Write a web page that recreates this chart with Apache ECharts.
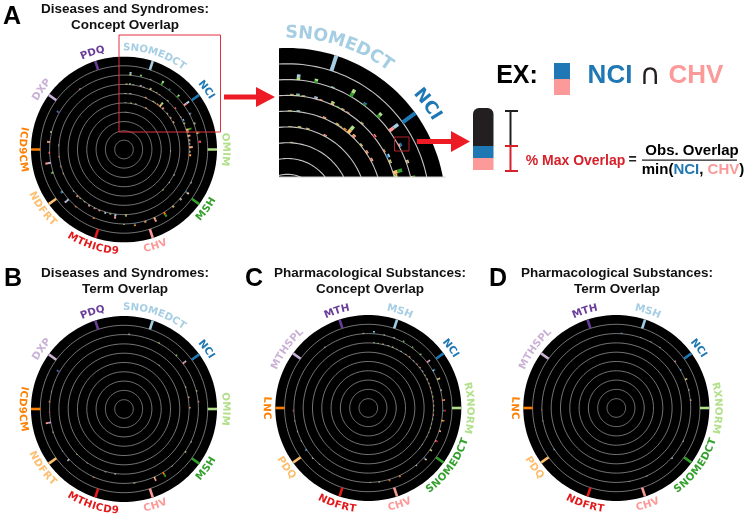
<!DOCTYPE html>
<html>
<head>
<meta charset="utf-8">
<title>Concept and term overlap</title>
<script src="https://cdn.jsdelivr.net/npm/echarts@6/dist/echarts.min.js"></script>
<style>
  html, body { margin: 0; padding: 0; background: #fff; }
  #chart { width: 750px; height: 519px; }
</style>
</head>
<body>
<div id="chart"></div>
<script>
// Database names, clockwise from the top of each wheel
const diseaseDatabases = ['SNOMEDCT', 'NCI', 'OMIM', 'MSH', 'CHV', 'MTHICD9', 'NDFRT', 'ICD9CM', 'DXP', 'PDQ'];
const pharmaDatabases = ['MSH', 'NCI', 'RXNORM', 'SNOMEDCT', 'CHV', 'NDFRT', 'PDQ', 'LNC', 'MTHSPL', 'MTH'];
const databaseAngles = [18, 54, 90, 126, 162, 198, 234, 270, 306, 342];
const databaseColors = ['#a6cee3', '#1f78b4', '#b2df8a', '#33a02c', '#fb9a99', '#e31a1c', '#fdbf6f', '#ff7f00', '#cab2d6', '#6a3d9a'];
const ringLevels = [1, 2, 3, 4, 5, 6, 7, 8, 9];

// Bars: [angle, ring, overlap, outer db, inner db]
const diseaseConceptBars = [
  [4.9, 8, .36, 0, 2], [12.9, 8, .25, 2, 3], [20.9, 8, .08, 0, 2], [30, 8, .5, 2, 3], [37.2, 8, .2, 1, 3],
  [45.4, 8, .35, 2, 3], [53.6, 8, .7, 0, 4], [61.5, 8, .22, 1, 4], [69.7, 8, .18, 6, 0], [77.3, 8, .3, 3, 6],
  [84.2, 8, .3, 4, 5], [116.3, 8, .12, 4, 0], [124.4, 8, .45, 6, 1], [131.3, 8, .22, 0, 6], [139.2, 8, .2, 6, 2],
  [147.6, 8, .55, 3, 7], [156, 8, .5, 4, 6], [163.5, 8, .2, 6, 4], [171.8, 8, .32, 7, 1], [180, 8, .08, 2, 6],
  [203.8, 8, .15, 7, 4], [220.2, 8, .12, 7, 6], [228.1, 8, .55, 8, 0], [235.6, 8, .25, 1, 0], [252, 8, .25, 3, 2],
  [259.7, 8, .6, 4, 8], [267.5, 8, .15, 5, 4], [275.7, 8, .3, 6, 4], [283.5, 8, .15, 6, 2], [299.7, 8, .32, 1, 9],
  [323.8, 8, .1, 4, 8],
  [2.2, 7, .1, 2, 6], [5.3, 7, .14, 0, 2], [8.2, 7, .08, 2, 6], [14.7, 7, .16, 0, 8], [17.6, 7, .08, 6, 4],
  [23.7, 7, .22, 2, 6], [26.9, 7, .08, 3, 2], [29.8, 7, .1, 6, 2], [32.9, 7, .08, 4, 6], [42, 7, .1, 2, 6],
  [51.2, 7, .16, 4, 5], [60.3, 7, .1, 6, 4], [63.5, 7, .22, 0, 1], [66.6, 7, .16, 2, 6], [72.6, 7, .6, 3, 6],
  [74.4, 7, .22, 6, 2], [78, 7, .3, 4, 6], [82, 7, .2, 6, 4], [85, 7, .15, 0, 4], [88, 7, .4, 4, 6],
  [92, 7, .15, 6, 0], [95, 7, .25, 6, 7], [178.3, 7, .2, 2, 6], [187.5, 7, .5, 4, 0], [192, 7, .15, 6, 2],
  [196.5, 7, .2, 0, 8], [202, 7, .15, 6, 4], [206.6, 7, .15, 4, 2], [211.9, 7, .2, 4, 8], [217, 7, .1, 6, 0],
  [222, 7, .1, 2, 6], [225, 7, .2, 6, 4], [230.4, 7, .1, 0, 6], [248.4, 7, .08, 6, 8], [255, 7, .08, 8, 6],
  [263.7, 7, .08, 6, 4], [273.7, 7, .08, 8, 0],
  [1.5, 6, .08, 6, 2], [6.5, 6, .1, 2, 0], [22.7, 6, .12, 4, 6], [31.4, 6, .12, 6, 2], [33.9, 6, .08, 2, 6],
  [36.8, 6, .12, 6, 7], [39.7, 6, .55, 2, 6], [43.5, 6, .2, 6, 4], [50.4, 6, .12, 2, 6], [55.8, 6, .15, 4, 6],
  [61.2, 6, .15, 6, 4], [117, 6, .1, 2, 0], [126, 6, .08, 0, 6], [135.9, 6, .1, 2, 6],
  [1.8, 5, .06, 6, 2], [8.6, 5, .1, 2, 6], [14.7, 5, .1, 6, 2], [28, 5, .12, 4, 6], [92, 5, .05, 6, 8],
  [3.7, 4, .06, 6, 2]
];
const diseaseTermBars = [
  [4, 8, .12, 0, 2], [28, 8, .1, 2, 6], [44.3, 8, .18, 3, 2], [52.3, 8, .45, 8, 4], [76, 8, .12, 6, 2],
  [84.4, 8, .12, 4, 6], [116.1, 8, .1, 4, 0], [124.9, 8, .15, 2, 6], [140, 8, .08, 6, 2], [148.4, 8, .55, 3, 7],
  [156, 8, .45, 4, 6], [172, 8, .1, 6, 2], [204, 8, .1, 7, 4], [227.5, 8, .25, 8, 0], [235.5, 8, .1, 1, 0],
  [251.9, 8, .12, 3, 2], [259.6, 8, .55, 4, 8], [267.5, 8, .08, 5, 4], [275.6, 8, .12, 6, 4], [283.4, 8, .05, 6, 2],
  [300, 8, .35, 1, 9],
  [70.4, 7, .1, 6, 2], [79.8, 7, .15, 4, 6], [88.9, 7, .15, 6, 4], [187.7, 7, .12, 0, 4], [196.5, 7, .1, 0, 8],
  [214.5, 7, .08, 6, 4], [226, 7, .08, 2, 6],
  [38.8, 6, .08, 6, 2]
];
const pharmaConceptBars = [
  [4.2, 8, .3, 0, 1], [356.2, 8, .1, 6, 2], [12.2, 8, .1, 2, 0], [20.2, 8, .1, 0, 2], [27.9, 8, .18, 2, 3],
  [36, 8, .15, 2, 3], [44.3, 8, .18, 3, 2], [52.2, 8, .4, 8, 4], [60, 8, .3, 1, 0], [67.5, 8, .35, 6, 2],
  [76.3, 8, .15, 8, 6], [84, 8, .3, 7, 4], [92, 8, .35, 5, 1], [99.7, 8, .3, 7, 6], [107.9, 8, .2, 6, 4],
  [116, 8, .3, 5, 4], [124, 8, .25, 6, 2], [131.8, 8, .4, 6, 1], [140, 8, .12, 2, 0], [155.2, 8, .2, 7, 6],
  [163.7, 8, .2, 7, 4], [171.6, 8, .12, 0, 6], [178.7, 8, .06, 2, 6], [324.4, 8, .1, 4, 8], [268, 8, .12, 4, 5],
  [260, 8, .06, 8, 6], [251.6, 8, .08, 0, 6], [243.7, 8, .08, 6, 0], [236, 8, .2, 1, 0], [228, 8, .12, 0, 2],
  [221, 8, .05, 6, 2],
  [4.9, 7, .1, 0, 2], [8.7, 7, .08, 2, 0], [13, 7, .1, 6, 2], [17.8, 7, .08, 0, 6], [22, 7, .12, 2, 6],
  [26, 7, .08, 6, 0], [30, 7, .1, 0, 2], [35, 7, .08, 2, 6], [39, 7, .12, 6, 4], [44, 7, .08, 0, 2],
  [48, 7, .1, 4, 6], [52, 7, .12, 6, 4], [56, 7, .1, 0, 4], [60, 7, .08, 6, 2], [64, 7, .12, 4, 6],
  [68, 7, .08, 2, 6], [72, 7, .1, 6, 4], [76, 7, .08, 0, 6], [80, 7, .1, 6, 2], [84, 7, .08, 4, 6],
  [88, 7, .1, 6, 0], [92, 7, .08, 2, 6], [96, 7, .1, 6, 4], [100, 7, .08, 0, 2], [104, 7, .06, 6, 2],
  [108, 7, .08, 2, 6], [112, 7, .06, 6, 4], [116, 7, .05, 0, 6], [124, 7, .05, 6, 2], [128, 7, .05, 2, 0]
];
const pharmaTermBars = [
  [4, 8, .12, 1, 0], [19.2, 8, .06, 0, 2], [27.8, 8, .06, 2, 6], [35.9, 8, .06, 0, 2], [51.6, 8, .15, 8, 6],
  [59.4, 8, .15, 1, 0], [67.6, 8, .25, 6, 2], [76, 8, .1, 8, 6], [84, 8, .12, 4, 6], [116.4, 8, .1, 4, 8],
  [132, 8, .15, 0, 2], [156, 8, .06, 6, 2], [169.6, 8, .05, 2, 6], [236.3, 8, .12, 1, 0], [260, 8, .05, 8, 6],
  [268.5, 8, .04, 4, 6]
];

const RAD = Math.PI / 180;
const measureCtx = document.createElement('canvas').getContext('2d');

function wheelPoint(api, radius, degrees) {
  return api.coord([radius * Math.sin(degrees * RAD), radius * Math.cos(degrees * RAD)]);
}

function circlePoints(api, radius) {
  const points = [];
  for (let deg = 0; deg < 360; deg += 2) points.push(wheelPoint(api, radius, deg));
  return points;
}

/**
 * Builds the custom series for one wheel: disk, rings, bars, rim ticks
 */
function wheelSeries(gridIndex, bars, widths) {
  const base = { type: 'custom', xAxisIndex: gridIndex, yAxisIndex: gridIndex, clip: true, silent: true, animation: false };
  return [
    Object.assign({}, base, {
      data: [[10]],
      renderItem: (params, api) => ({
        type: 'polygon',
        shape: { points: circlePoints(api, api.value(0)) },
        style: { fill: '#000' }
      })
    }),
    Object.assign({}, base, {
      data: ringLevels.map(r => [r]),
      renderItem: (params, api) => ({
        type: 'polygon',
        shape: { points: circlePoints(api, api.value(0)) },
        style: { fill: 'none', stroke: '#c4c4c4', lineWidth: widths.ring }
      })
    }),
    Object.assign({}, base, {
      data: bars,
      renderItem: (params, api) => {
        const angle = api.value(0), ring = api.value(1), overlap = api.value(2);
        const segment = (from, to, db) => {
          const a = wheelPoint(api, from, angle), b = wheelPoint(api, to, angle);
          return {
            type: 'line',
            shape: { x1: a[0], y1: a[1], x2: b[0], y2: b[1] },
            style: { stroke: databaseColors[db], lineWidth: widths.bar }
          };
        };
        return {
          type: 'group',
          children: [
            segment(ring, ring + overlap / 2, api.value(4)),
            segment(ring + overlap / 2, ring + overlap, api.value(3))
          ]
        };
      }
    }),
    Object.assign({}, base, {
      data: databaseAngles.map((deg, i) => [deg, i]),
      renderItem: (params, api) => {
        const a = wheelPoint(api, 9, api.value(0)), b = wheelPoint(api, 10, api.value(0));
        return {
          type: 'line',
          shape: { x1: a[0], y1: a[1], x2: b[0], y2: b[1] },
          style: { stroke: databaseColors[api.value(1)], lineWidth: widths.tick }
        };
      }
    })
  ];
}

/**
 * Labels run along the rim, one glyph at a time so the word can bend
 */
function labelSeries(gridIndex, names, fontSize, radius, only) {
  const font = 'bold ' + fontSize + 'px "DejaVu Sans"';
  const spacing = fontSize * 0.02;
  return {
    type: 'custom', xAxisIndex: gridIndex, yAxisIndex: gridIndex, clip: false, silent: true, animation: false, z: 5,
    data: databaseAngles.map((deg, i) => [deg, i]).filter(d => !only || only.includes(d[1])),
    renderItem: (params, api) => {
      const deg = api.value(0), db = api.value(1), name = names[db];
      measureCtx.font = font;
      const widths = name.split('').map(ch => measureCtx.measureText(ch).width + spacing);
      const total = widths.reduce((s, w) => s + w, 0);
      const pxPerUnit = Math.abs(api.coord([1, 0])[0] - api.coord([0, 0])[0]);
      const reversed = deg > 100 && deg < 300;
      let run = -total / 2;
      const children = name.split('').map((ch, i) => {
        const offset = (run + widths[i] / 2) / (radius * pxPerUnit) / RAD;
        run += widths[i];
        const at = reversed ? deg - offset : deg + offset;
        const p = wheelPoint(api, radius, at);
        return {
          type: 'text',
          x: p[0], y: p[1],
          rotation: (reversed ? 180 - at : -at) * RAD,
          style: { text: ch, font: font, fill: databaseColors[db], textAlign: 'center', textVerticalAlign: 'middle' }
        };
      });
      return { type: 'group', children };
    }
  };
}

const smallWidths = { ring: 0.6, bar: 1.7, tick: 2.6 };
const panels = [
  { cx: 124, cy: 149.5, title: 'Diseases and Syndromes:\nConcept Overlap', titleX: 125, titleTop: 1, names: diseaseDatabases, bars: diseaseConceptBars, widths: { ring: 0.6, bar: 2, tick: 2.6 } },
  { cx: 124, cy: 409, title: 'Diseases and Syndromes:\nTerm Overlap', titleX: 125, titleTop: 265, names: diseaseDatabases, bars: diseaseTermBars, widths: smallWidths },
  { cx: 368.3, cy: 408, title: 'Pharmacological Substances:\nConcept Overlap', titleX: 370, titleTop: 265, names: pharmaDatabases, bars: pharmaConceptBars, widths: smallWidths },
  { cx: 616.3, cy: 408, title: 'Pharmacological Substances:\nTerm Overlap', titleX: 617, titleTop: 265, names: pharmaDatabases, bars: pharmaTermBars, widths: smallWidths }
];

const grids = [], xAxes = [], yAxes = [], series = [];
panels.forEach((p, i) => {
  grids.push({ left: p.cx - 93, top: p.cy - 93, width: 186, height: 186 });
  xAxes.push({ type: 'value', gridIndex: i, min: -10, max: 10, show: false });
  yAxes.push({ type: 'value', gridIndex: i, min: -10, max: 10, show: false });
  series.push(...wheelSeries(i, p.bars, p.widths));
  series.push(labelSeries(i, p.names, 10.2, 10.95));
});

// Enlarged crop of wheel A, same data, same scales, just a narrower axis window
const insetIndex = panels.length;
grids.push({ left: 279, top: 48, width: 166.5, height: 129 });
xAxes.push({ type: 'value', gridIndex: insetIndex, min: -0.54, max: 10, show: false });
yAxes.push({ type: 'value', gridIndex: insetIndex, min: 1.83, max: 10, show: false });
series.push(...wheelSeries(insetIndex, diseaseConceptBars, { ring: 1.1, bar: 3.6, tick: 4 }));
series.push(labelSeries(insetIndex, diseaseDatabases, 17.5, 10.95, [0, 1]));

const RED = '#ed1c24';
const BLUE = '#1f78b4';
const PINK = '#fb9a99';
const INK = '#231f20';
const sans = '"Liberation Sans"';

function rect(x, y, width, height, fill, extra) {
  return Object.assign({ type: 'rect', shape: { x, y, width, height }, style: { fill }, z: 20 }, extra);
}
function label(x, y, text, font, fill) {
  return { type: 'text', x, y, z: 21, style: { text, font, fill, textAlign: 'center', textVerticalAlign: 'middle' } };
}
function arrow(x0, shaftEnd, tip, y, shaft, head) {
  return {
    type: 'polygon', z: 20,
    shape: { points: [[x0, y - shaft], [shaftEnd, y - shaft], [shaftEnd, y - head], [tip, y], [shaftEnd, y + head], [shaftEnd, y + shaft], [x0, y + shaft]] },
    style: { fill: RED }
  };
}

const annotations = [
  label(12, 17, 'A', 'bold 25px ' + sans, '#000'),
  label(13, 279, 'B', 'bold 25px ' + sans, '#000'),
  label(254, 279, 'C', 'bold 25px ' + sans, '#000'),
  label(498, 279, 'D', 'bold 25px ' + sans, '#000'),
  // crop markers
  { type: 'rect', z: 20, shape: { x: 119, y: 35, width: 101.5, height: 97 }, style: { fill: 'none', stroke: '#e0303a', lineWidth: 1 } },
  { type: 'rect', z: 20, shape: { x: 394.5, y: 137, width: 14.5, height: 14 }, style: { fill: 'none', stroke: '#b5202a', lineWidth: 1 } },
  rect(279, 176.5, 166.5, 1, '#cfcfcf'),
  arrow(224, 256, 275, 97, 2.6, 10),
  arrow(417, 451, 470, 141.5, 2.6, 10.5),
  // worked example
  label(517, 76, 'EX:', 'bold 25px ' + sans, '#000'),
  rect(554, 63, 16, 16, BLUE),
  rect(554, 79, 16, 16, PINK),
  label(610, 76, 'NCI', 'bold 26px ' + sans, BLUE),
  label(650, 76, '∩', '29px "DejaVu Sans"', INK),
  label(696, 76, 'CHV', 'bold 26px ' + sans, PINK),
  rect(473, 108, 20.5, 38, INK, { shape: { x: 473, y: 108, width: 20.5, height: 38, r: [6, 6, 0, 0] } }),
  rect(473, 146, 20.5, 12, BLUE),
  rect(473, 158, 20.5, 12, PINK),
  rect(509.5, 111, 2, 34, INK),
  rect(505, 110, 13, 2, INK),
  rect(509.5, 146, 2, 25, '#d6202a'),
  rect(505, 145, 13, 2, '#d6202a'),
  rect(505, 170, 13, 2, '#d6202a'),
  label(575.5, 161, '% Max Overlap', 'bold 14px ' + sans, '#d6202a'),
  label(632.5, 160, '=', 'bold 14px ' + sans, INK),
  label(692, 151, 'Obs. Overlap', 'bold 15px ' + sans, '#000'),
  rect(642, 159.5, 95, 1.2, INK),
  {
    type: 'text', x: 693, y: 170, z: 21,
    style: {
      text: '{k|min(}{n|NCI}{k|, }{c|CHV}{k|)}',
      textAlign: 'center', textVerticalAlign: 'middle',
      rich: {
        k: { font: 'bold 15px ' + sans, fill: '#000' },
        n: { font: 'bold 15px ' + sans, fill: BLUE },
        c: { font: 'bold 15px ' + sans, fill: PINK }
      }
    }
  }
];

const chart = echarts.init(document.getElementById('chart'), null, { renderer: 'canvas' });
chart.setOption({
  animation: false,
  backgroundColor: '#fff',
  title: panels.map(p => ({
    text: p.title,
    left: p.titleX,
    top: p.titleTop,
    textAlign: 'center',
    padding: 0,
    textStyle: { fontFamily: sans, fontWeight: 'bold', fontSize: 13.5, lineHeight: 16, color: '#111' }
  })),
  grid: grids,
  xAxis: xAxes,
  yAxis: yAxes,
  series: series,
  graphic: { elements: annotations }
});
</script>
</body>
</html>
